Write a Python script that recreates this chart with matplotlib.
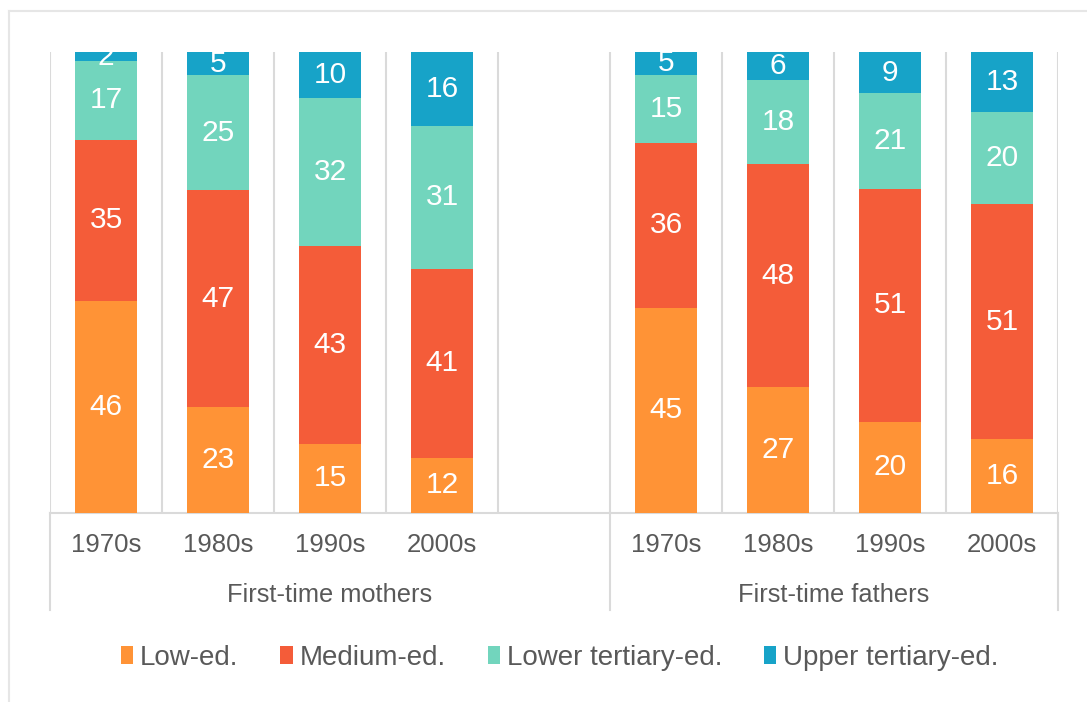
import matplotlib
matplotlib.use("Agg")
import matplotlib.pyplot as plt
import numpy as np
from matplotlib.patches import Patch

plt.rcParams["font.family"] = ["Liberation Sans", "DejaVu Sans"]

# 数据
decades = ["1970s", "1980s", "1990s", "2000s"]
groups = ["First-time mothers", "First-time fathers"]
levels = ["Low-ed.", "Medium-ed.", "Lower tertiary-ed.", "Upper tertiary-ed."]
colors = ["#FF9336", "#F45C39", "#72D5BD", "#17A3C8"]

mothers_low = [46, 23, 15, 12]
mothers_medium = [35, 47, 43, 41]
mothers_lower_tert = [17, 25, 32, 31]
mothers_upper_tert = [2, 5, 10, 16]

fathers_low = [45, 27, 20, 16]
fathers_medium = [36, 48, 51, 51]
fathers_lower_tert = [15, 18, 21, 20]
fathers_upper_tert = [5, 6, 9, 13]

text_color = "#595959"
grid_color = "#DADADA"

fig = plt.figure(figsize=(10.87, 7.02), dpi=100)
ax = fig.add_axes([50 / 1087, 1 - 513 / 702, 1008 / 1087, 461 / 702])

mothers = np.array([mothers_low, mothers_medium, mothers_lower_tert, mothers_upper_tert], dtype=float)
fathers = np.array([fathers_low, fathers_medium, fathers_lower_tert, fathers_upper_tert], dtype=float)
xpos_groups = [np.arange(4), np.arange(4) + 5]

for data, xpos in zip([mothers, fathers], xpos_groups):
    shares = data / data.sum(axis=0) * 100  # 100% 堆积
    bottom = np.zeros(4)
    for i in range(4):
        ax.bar(xpos, shares[i], bottom=bottom, width=0.55, color=colors[i], zorder=3)
        for x, b, h, v in zip(xpos, bottom, shares[i], data[i]):
            ax.text(x, b + h / 2, f"{int(v)}", ha="center", va="center",
                    color="white", fontsize=21.5, zorder=4)
        bottom += shares[i]

ax.set_xlim(-0.5, 8.5)
ax.set_ylim(0, 100)
for x in np.arange(-0.5, 9, 1):
    ax.axvline(x, color=grid_color, lw=1.5, zorder=1)

for s in ["top", "right", "left"]:
    ax.spines[s].set_visible(False)
ax.spines["bottom"].set_color(grid_color)
ax.spines["bottom"].set_linewidth(1.5)
ax.set_xticks([])
ax.set_yticks([])

trans = ax.get_xaxis_transform()
for xpos in xpos_groups:
    for x, d in zip(xpos, decades):
        ax.text(x, -32 / 461, d, transform=trans, ha="center", va="center",
                fontsize=18.5, color=text_color)
for xc, g in zip([2.0, 6.5], groups):
    ax.text(xc, -82 / 461, g, transform=trans, ha="center", va="center",
            fontsize=18.3, color=text_color)
for x in [-0.5, 4.5, 8.5]:
    ax.plot([x, x], [0, -97 / 461], transform=trans, color=grid_color,
            lw=1.5, clip_on=False)

# 外框（截图左上边）
fig.add_artist(plt.Line2D([9 / 1087, 9 / 1087], [0, 1 - 11 / 702], color="#E6E6E6", lw=1.5))
fig.add_artist(plt.Line2D([9 / 1087, 1], [1 - 11 / 702, 1 - 11 / 702], color="#E6E6E6", lw=1.5))

handles = [Patch(facecolor=c) for c in colors]
fig.legend(handles, levels, loc="center", bbox_to_anchor=(0.515, 1 - 658 / 702), ncol=4,
           frameon=False, fontsize=20, handlelength=0.45, handleheight=0.6,
           handletextpad=0.25, columnspacing=1.5, labelcolor=text_color)

plt.savefig("out.png", dpi=100)
